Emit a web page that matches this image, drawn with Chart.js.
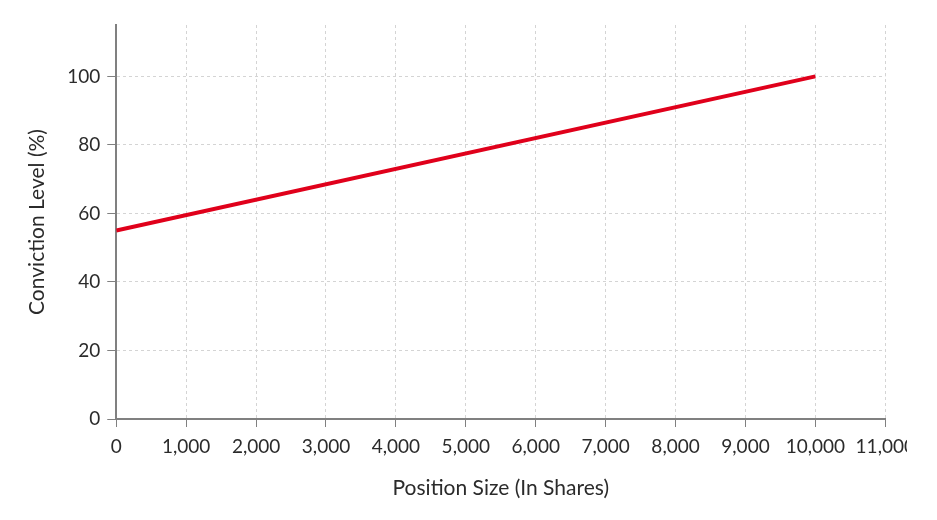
<!DOCTYPE html>
<html lang="en">
<head>
  <meta charset="UTF-8">
  <title>Conviction Level vs Position Size</title>
  <script src="https://cdn.jsdelivr.net/npm/chart.js"></script>
  <style>
    body {
      margin: 0;
      background: #fff;
    }
    #clip {
      width: 907px;
      height: 520px;
      overflow: hidden;
    }
    #chart-container {
      width: 923px;
      height: 520px;
    }
  </style>
</head>
<body>
  <div id="clip">
    <div id="chart-container">
      <canvas id="convictionChart"></canvas>
    </div>
  </div>

  <script>
    // Values
    const positionSize = [0, 10000];     // shares
    const convictionLevel = [55, 100];   // %

    const xTitle = "Position Size (In Shares)";
    const yTitle = "Conviction Level (%)";

    const axisColor = "#808080";
    const gridColor = "#d4d4d4";
    const textColor = "#2b2b2b";
    const tickFont = { family: "Lato", size: 19 };
    const titleFont = { family: "Lato", size: 21 };

    const points = positionSize.map((x, i) => ({ x: x, y: convictionLevel[i] }));

    const ctx = document.getElementById("convictionChart").getContext("2d");

    new Chart(ctx, {
      type: "scatter",
      data: {
        datasets: [
          {
            data: points,
            showLine: true,
            borderColor: "#e0001b",
            borderWidth: 4,
            pointRadius: 0,
            pointHoverRadius: 0
          }
        ]
      },
      options: {
        responsive: true,
        maintainAspectRatio: false,
        animation: false,
        layout: {
          padding: { top: 25, left: 25, bottom: 19, right: 0 }
        },
        plugins: {
          legend: { display: false },
          tooltip: { enabled: false }
        },
        scales: {
          x: {
            type: "linear",
            min: 0,
            max: 11000,
            ticks: {
              stepSize: 1000,
              color: textColor,
              font: tickFont,
              padding: 8,
              maxRotation: 0,
              callback: v => v.toLocaleString("en-US")
            },
            grid: {
              color: gridColor,
              tickColor: axisColor,
              tickLength: 8,
              tickBorderDash: [],
              lineWidth: 1
            },
            border: {
              color: axisColor,
              width: 2,
              dash: [3, 3]
            },
            title: {
              display: true,
              text: xTitle,
              color: textColor,
              font: titleFont,
              padding: { top: 10, bottom: 0 }
            }
          },
          y: {
            min: 0,
            max: 115,
            ticks: {
              stepSize: 20,
              includeBounds: false,
              color: textColor,
              font: tickFont,
              padding: 7
            },
            grid: {
              color: gridColor,
              tickColor: axisColor,
              tickLength: 9,
              tickBorderDash: [],
              lineWidth: 1
            },
            border: {
              color: axisColor,
              width: 2,
              dash: [3, 3]
            },
            title: {
              display: true,
              text: yTitle,
              color: textColor,
              font: titleFont,
              padding: { top: 0, bottom: 10 }
            }
          }
        }
      }
    });
  </script>
</body>
</html>
